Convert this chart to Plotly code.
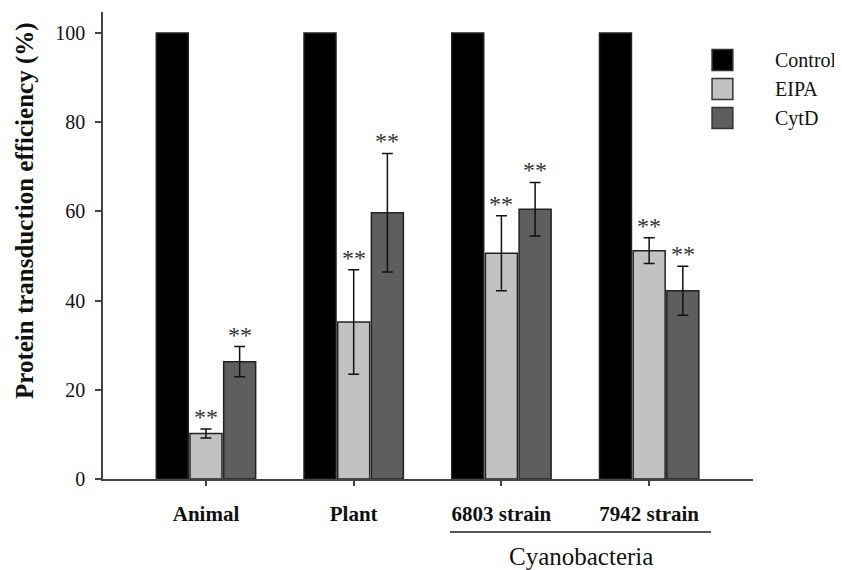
import plotly.graph_objects as go

categories = ["Animal", "Plant", "6803 strain", "7942 strain"]
series_names = ["Control", "EIPA", "CytD"]
control_vals = [100, 100, 100, 100]
eipa_vals = [10.2, 35.2, 50.6, 51.2]
eipa_err = [1.0, 11.7, 8.4, 2.9]
cytd_vals = [26.3, 59.7, 60.5, 42.2]
cytd_err = [3.4, 13.3, 6.0, 5.5]
sig_labels = ["**", "**", "**", "**"]
y_ticks = [0, 20, 40, 60, 80, 100]
group_label = "Cyanobacteria"

colors = ["#000000", "#c2c2c2", "#5e5e5e"]
SERIF = "Liberation Serif, Times New Roman, serif"

xs = list(range(len(categories)))
bargap = 0.316
bw = (1 - bargap) / 3

fig = go.Figure()
vals = [control_vals, eipa_vals, cytd_vals]
errs = [None, eipa_err, cytd_err]
for name, v, e, c in zip(series_names, vals, errs, colors):
    fig.add_trace(go.Bar(
        x=xs, y=v, name=name, showlegend=False,
        marker=dict(color=c, line=dict(color="#222222", width=1.5)),
        error_y=(dict(type="data", array=e, color="#111111", thickness=1.5, width=5.5, visible=True)
                 if e is not None else None),
    ))

# significance marks
for k, (v, e) in enumerate([(eipa_vals, eipa_err), (cytd_vals, cytd_err)]):
    off = k * bw  # EIPA at centre, CytD at +bw
    for i in xs:
        fig.add_annotation(x=i + off, y=v[i] + e[i], xref="x", yref="y",
                           text=sig_labels[i], showarrow=False, yanchor="bottom",
                           yshift=-3, font=dict(family=SERIF, size=24, color="#333333"))

# custom legend
leg_y = [0.897, 0.835, 0.773]
for name, c, yy in zip(series_names, colors, leg_y):
    fig.add_shape(type="rect", xref="paper", yref="paper",
                  x0=0.937, x1=0.969, y0=yy - 0.0225, y1=yy + 0.0225,
                  fillcolor=c, line=dict(color="#333333", width=1.5))
    fig.add_annotation(xref="paper", yref="paper", x=1.031, y=yy, text=name,
                       showarrow=False, xanchor="left", yanchor="middle",
                       font=dict(family=SERIF, size=20, color="#111111"))

# y title
fig.add_annotation(xref="paper", yref="paper", x=(25 - 103) / 650, y=(479 - 211) / 467,
                   text="<b>Protein transduction efficiency (%)</b>", textangle=-90,
                   showarrow=False, xanchor="center", yanchor="middle",
                   font=dict(family=SERIF, size=25, color="#111111"))

# cyanobacteria grouping line and label
fig.add_shape(type="line", xref="x", yref="paper", x0=1.652, x1=3.419,
              y0=(479 - 532) / 467, y1=(479 - 532) / 467,
              line=dict(color="#222222", width=1.5))
fig.add_annotation(xref="x", yref="paper", x=2.54, y=(479 - 556) / 467, text=group_label,
                   showarrow=False, xanchor="center", yanchor="middle",
                   font=dict(family=SERIF, size=25, color="#111111"))

fig.update_layout(
    width=834, height=562,
    margin=dict(l=95, r=89, t=4, b=91),
    barmode="group", bargap=bargap, bargroupgap=0.05,
    plot_bgcolor="white", paper_bgcolor="white",
    showlegend=False,
)
fig.update_xaxes(
    range=[-0.697, 3.703], tickvals=xs, ticktext=["<b>%s</b>" % c for c in categories],
    showline=True, linecolor="#444444", linewidth=1.5,
    ticks="outside", ticklen=5, tickcolor="#444444", tickwidth=1.5,
    ticklabelstandoff=10,
    showgrid=False, zeroline=False,
    tickfont=dict(family=SERIF, size=21, color="#111111"),
)
fig.update_yaxes(
    range=[0, 104.7], tickvals=y_ticks,
    showline=True, linecolor="#444444", linewidth=1.5,
    ticks="outside", ticklen=6, tickcolor="#444444", tickwidth=1.5,
    ticklabelstandoff=6,
    showgrid=False, zeroline=False,
    tickfont=dict(family=SERIF, size=20, color="#111111"),
)

fig.write_html("out.html")
